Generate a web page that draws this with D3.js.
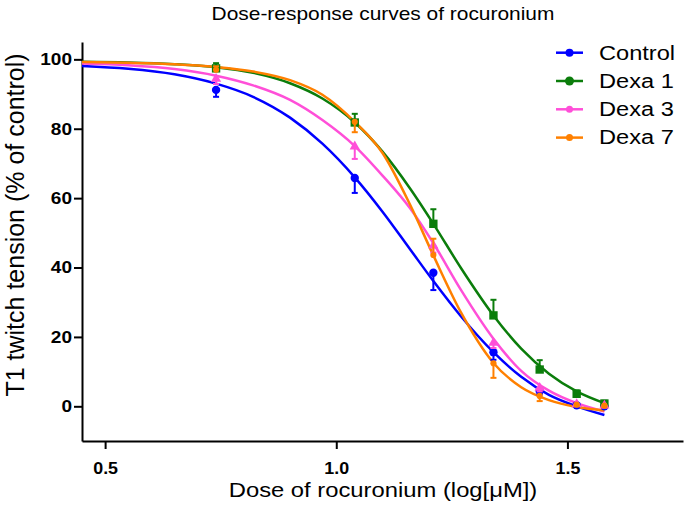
<!DOCTYPE html>
<html>
<head>
<meta charset="utf-8">
<script src="https://cdn.jsdelivr.net/npm/d3@7"></script>
<style>
  body { margin: 0; background: #fff; }
  text { font-family: "Liberation Sans", Arial, sans-serif; }
</style>
</head>
<body>
<svg id="chart"></svg>
<script>
// log dose of rocuronium for each measured point
const doses = [0.74, 1.04, 1.21, 1.34, 1.44, 1.52, 1.58];

// means (% of control), signed SEM (+ drawn above, - drawn below)
const controlMean = [91.2, 65.8, 38.5, 15.6, 4.4, 0.3, 0.0];
const controlErr  = [-2.0, -4.3, -5.0, -2.2, -1.0, -0.5, -0.5];
const dexa1Mean   = [97.4, 81.8, 52.6, 26.2, 10.6, 3.6, 0.8];
const dexa1Err    = [1.5, 2.5, 4.2, 4.5, 2.7, 1.0, 0.8];
const dexa3Mean   = [94.4, 74.9, 46.3, 18.3, 5.3, 0.6, 0.2];
const dexa3Err    = [-1.5, -3.6, -2.0, -1.5, -1.0, -0.5, -0.5];
const dexa7Mean   = [97.0, 82.0, 43.6, 12.4, 3.0, 0.5, 0.2];
const dexa7Err    = [1.0, -3.0, 4.7, -4.2, -1.5, -0.5, -0.5];

// fitted curves
const curveX       = [0.45, 0.55, 0.65, 0.74, 0.82, 0.90, 0.97, 1.04, 1.10, 1.16, 1.21, 1.27, 1.34, 1.40, 1.46, 1.52, 1.58];
const controlCurve = [98.1, 97.3, 95.7, 93.0, 89.2, 83.2, 75.7, 66.0, 56.1, 45.2, 36.1, 25.9, 15.6, 8.5, 3.3, 0.0, -2.5];
const dexa1Curve   = [99.3, 99.1, 98.6, 97.7, 96.1, 93.1, 88.7, 81.8, 73.4, 62.7, 52.6, 39.8, 26.2, 16.6, 9.4, 4.3, 0.9];
const dexa3Curve   = [98.8, 98.3, 97.2, 95.3, 92.5, 88.3, 82.5, 75.0, 66.5, 57.0, 47.0, 33.5, 19.5, 10.2, 4.5, 0.9, -1.5];
const dexa7Curve   = [99.2, 99.0, 98.6, 97.8, 96.5, 94.0, 89.8, 82.0, 73.0, 58.0, 43.5, 27.0, 12.5, 5.5, 1.8, -0.2, -1.2];

const seriesNames = ['Control', 'Dexa 1', 'Dexa 3', 'Dexa 7'];
const xTicks = [0.5, 1.0, 1.5];
const yTicks = [0, 20, 40, 60, 80, 100];

const series = [
    {name: seriesNames[0], mean: controlMean, err: controlErr, curve: controlCurve, color: '#0000ff', shape: d3.symbolCircle, size: 55, legendR: 4},
    {name: seriesNames[1], mean: dexa1Mean, err: dexa1Err, curve: dexa1Curve, color: '#0b7d0b', shape: d3.symbolSquare, size: 70, legendR: 4.5},
    {name: seriesNames[2], mean: dexa3Mean, err: dexa3Err, curve: dexa3Curve, color: '#ff4fd8', shape: d3.symbolTriangle, size: 45, legendR: 3.5},
    {name: seriesNames[3], mean: dexa7Mean, err: dexa7Err, curve: dexa7Curve, color: '#ff8000', shape: d3.symbolCircle, size: 30, legendR: 3.5}
];

const W = 685, H = 505;
const svg = d3.select('#chart').attr('width', W).attr('height', H);

const x = d3.scaleLinear().domain([0.45, 1.75]).range([82, 683]);
const y = d3.scaleLinear().domain([-10, 105]).range([441, 42]);

/* stretch text horizontally, the figure is a bit wide */
function stretch(sel, k) {
    sel.each(function() {
        const w = this.getComputedTextLength();
        d3.select(this).attr('textLength', w * k).attr('lengthAdjust', 'spacingAndGlyphs');
    });
}

/* axes */
const xAxis = svg.append('g')
    .attr('transform', 'translate(0,' + y(-10) + ')')
    .call(d3.axisBottom(x).tickValues(xTicks).tickFormat(d3.format('.1f'))
        .tickSize(8).tickSizeOuter(0).tickPadding(13));
const yAxis = svg.append('g')
    .attr('transform', 'translate(' + x(0.45) + ',0)')
    .call(d3.axisLeft(y).tickValues(yTicks).tickSize(8).tickSizeOuter(0).tickPadding(2));

[xAxis, yAxis].forEach(a => {
    a.select('.domain').attr('stroke', '#000').attr('stroke-width', 2);
    a.selectAll('.tick line').attr('stroke', '#000').attr('stroke-width', 2);
    a.selectAll('.tick text')
        .attr('fill', '#000')
        .style('font-family', '"Liberation Sans", Arial, sans-serif')
        .style('font-size', '17px')
        .style('font-weight', 'bold');
});
stretch(xAxis.selectAll('.tick text'), 1.05);
stretch(yAxis.selectAll('.tick text'), 1.12);

/* fitted curves */
const line = d3.line()
    .x((d, i) => x(curveX[i]))
    .y(d => y(d))
    .curve(d3.curveMonotoneX);

svg.append('g').selectAll('path')
    .data(series)
    .enter().append('path')
    .attr('d', s => line(s.curve))
    .attr('fill', 'none')
    .attr('stroke', s => s.color)
    .attr('stroke-width', 2.5);

/* error bars and markers */
series.forEach(s => {
    const g = svg.append('g');
    const pts = doses.map((d, i) => ({x: d, m: s.mean[i], e: s.err[i]}));

    g.selectAll('.bar')
        .data(pts)
        .enter().append('line')
        .attr('x1', d => x(d.x)).attr('x2', d => x(d.x))
        .attr('y1', d => y(d.m)).attr('y2', d => y(d.m + d.e))
        .attr('stroke', s.color).attr('stroke-width', 2);

    g.selectAll('.cap')
        .data(pts)
        .enter().append('line')
        .attr('x1', d => x(d.x) - 3).attr('x2', d => x(d.x) + 3)
        .attr('y1', d => y(d.m + d.e)).attr('y2', d => y(d.m + d.e))
        .attr('stroke', s.color).attr('stroke-width', 2);

    g.selectAll('.dot')
        .data(pts)
        .enter().append('path')
        .attr('d', d3.symbol().type(s.shape).size(s.size))
        .attr('transform', d => 'translate(' + x(d.x) + ',' + y(d.m) + ')')
        .attr('fill', s.color);
});

/* title and axis labels */
const title = svg.append('text')
    .attr('x', 383).attr('y', 20)
    .attr('text-anchor', 'middle')
    .style('font-size', '18.5px')
    .text('Dose-response curves of rocuronium');
stretch(title, 1.13);

const xLabel = svg.append('text')
    .attr('x', 383).attr('y', 497)
    .attr('text-anchor', 'middle')
    .style('font-size', '19.5px')
    .text('Dose of rocuronium (log[\u03bcM])');
stretch(xLabel, 1.22);

svg.append('text')
    .attr('transform', 'translate(24,225) rotate(-90)')
    .attr('text-anchor', 'middle')
    .style('font-size', '25px')
    .text('T1 twitch tension (% of control)');

/* legend */
const legend = svg.append('g').selectAll('g')
    .data(series)
    .enter().append('g')
    .attr('transform', (d, i) => 'translate(556,' + (52.7 + i * 28.3) + ')');

legend.append('line')
    .attr('x1', 0).attr('x2', 27)
    .attr('stroke', d => d.color).attr('stroke-width', 2.5);
legend.append('circle')
    .attr('cx', 13.5).attr('r', d => d.legendR)
    .attr('fill', d => d.color);
const legendText = legend.append('text')
    .attr('x', 43).attr('y', 6.8)
    .style('font-size', '20px')
    .text(d => d.name);
stretch(legendText, 1.18);
</script>
</body>
</html>
